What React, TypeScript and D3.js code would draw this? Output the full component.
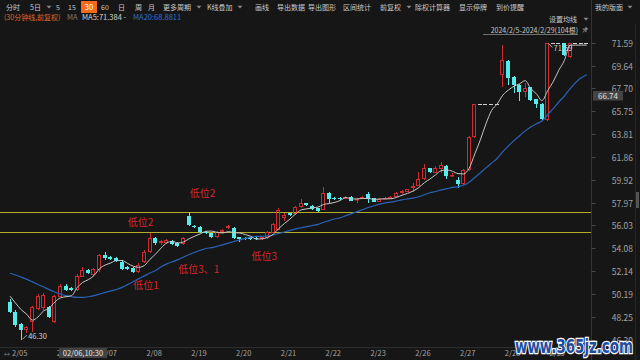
import React from "react";
import * as d3 from "d3";

// ---------- data ----------
const dayLabels = ["2/05", "2/06", "2/07", "2/08", "2/19", "2/20", "2/21", "2/22", "2/23", "2/26", "2/27", "2/28", "2/29"];
const barsPerDay = 8;

const open = [
  49.53, 48.68, 47.62, 47.12, 47.83, 48.88, 48.95, 49.11,
  47.83, 49.96, 50.87, 50.70, 50.53, 51.66, 52.23, 51.80,
  52.23, 53.51, 53.36, 53.22, 52.94, 52.46, 52.43, 52.03,
  52.94, 53.79, 54.93, 54.50, 54.50, 54.67, 54.55, 54.44,
  56.83, 56.00, 55.92, 55.49, 55.35, 55.01, 55.49, 55.78,
  55.78, 55.01, 54.98, 55.01, 54.98, 54.84, 54.93, 55.41,
  55.64, 56.65, 57.05, 57.00, 57.60, 57.90, 57.68, 57.48,
  57.34, 58.76, 58.32, 58.39, 58.31, 58.48, 58.19, 58.40,
  58.70, 58.33, 58.05, 58.31, 58.33, 58.48, 58.76, 58.90,
  59.18, 59.38, 59.95, 60.89, 60.52, 60.83, 61.09, 60.25,
  59.90, 59.55, 60.75, 63.53, 66.37, 66.37, 66.37, 66.37,
  68.84, 70.06, 68.70, 67.99, 67.42, 67.79, 66.77, 66.37,
  65.00, 71.59, 71.59, 71.59, 70.40, 71.59, 71.59, 71.59,
];
const high = [
  49.75, 48.80, 47.70, 47.50, 49.20, 50.15, 50.25, 49.20,
  50.10, 51.00, 51.00, 50.80, 51.90, 52.50, 52.30, 52.40,
  53.60, 53.80, 53.45, 53.30, 53.10, 52.55, 52.50, 52.80,
  53.90, 55.41, 55.05, 54.80, 54.85, 54.75, 54.60, 55.00,
  57.14, 56.10, 56.00, 55.55, 55.40, 55.55, 55.70, 56.05,
  55.90, 55.05, 55.02, 55.05, 55.02, 55.05, 55.55, 56.20,
  57.50, 57.10, 57.10, 57.70, 58.30, 57.95, 57.75, 57.55,
  59.33, 58.85, 58.45, 58.45, 58.55, 58.52, 58.35, 58.50,
  58.90, 58.38, 58.35, 58.45, 58.52, 58.88, 59.05, 59.15,
  59.67, 60.55, 61.23, 60.95, 61.12, 61.46, 61.15, 60.45,
  60.18, 60.80, 63.65, 66.37, 66.37, 66.37, 66.37, 66.37,
  71.39, 70.10, 68.75, 68.05, 68.13, 67.85, 66.80, 66.45,
  71.59, 71.59, 71.59, 71.59, 71.59, 71.59, 71.59, 71.59,
];
const low = [
  48.55, 47.40, 46.30, 46.90, 46.98, 48.80, 48.85, 48.10,
  47.70, 49.90, 50.40, 50.45, 50.45, 51.60, 51.90, 51.75,
  52.10, 53.10, 53.05, 52.95, 52.20, 52.25, 51.95, 51.98,
  52.85, 53.70, 54.40, 54.40, 54.45, 54.35, 54.20, 54.40,
  55.95, 55.80, 55.40, 55.30, 54.95, 54.95, 55.45, 55.72,
  54.88, 54.60, 54.80, 54.82, 54.78, 54.80, 54.90, 55.35,
  55.60, 56.40, 56.85, 56.95, 57.55, 57.70, 57.35, 57.20,
  57.30, 57.96, 58.15, 58.20, 58.28, 58.08, 57.96, 58.36,
  57.96, 58.00, 58.00, 58.28, 58.30, 58.45, 58.72, 58.86,
  58.90, 59.35, 59.90, 60.50, 60.45, 60.46, 59.95, 60.15,
  59.20, 59.50, 60.70, 63.45, 66.37, 66.37, 66.37, 66.37,
  67.85, 67.99, 67.28, 66.65, 67.00, 66.65, 66.00, 64.95,
  64.92, 71.59, 71.59, 70.45, 70.30, 71.59, 71.59, 71.59,
];
const close = [
  48.68, 47.54, 47.12, 47.35, 49.11, 50.04, 50.10, 48.25,
  50.01, 50.87, 50.53, 50.55, 51.72, 52.23, 52.00, 52.29,
  53.51, 53.22, 53.14, 53.02, 52.29, 52.29, 52.03, 52.66,
  53.79, 54.93, 54.50, 54.67, 54.78, 54.44, 54.27, 54.93,
  56.06, 55.86, 55.44, 55.35, 55.01, 55.49, 55.64, 56.00,
  54.93, 54.84, 54.84, 54.87, 54.84, 55.01, 55.49, 56.14,
  57.34, 56.95, 56.95, 57.62, 57.90, 57.75, 57.40, 57.25,
  58.76, 58.28, 58.25, 58.25, 58.48, 58.13, 58.31, 58.45,
  58.25, 58.05, 58.31, 58.39, 58.48, 58.82, 58.99, 59.10,
  59.41, 59.95, 60.89, 60.55, 60.89, 61.17, 60.25, 60.34,
  59.55, 60.75, 63.59, 66.37, 66.37, 66.37, 66.37, 66.37,
  70.12, 68.56, 67.99, 67.42, 67.70, 66.71, 66.37, 65.08,
  71.59, 71.59, 71.59, 70.56, 71.59, 71.59, 71.59, 71.59,
];

// moving-average values at the first bars (their windows reach before 2/05)
const ma5Head = [50.0, 49.4, 48.85, 48.45];
const ma20Head = [51.95, 51.8, 51.62, 51.43, 51.22, 51.0, 50.78, 50.56, 50.36, 50.18, 50.04, 49.95, 49.9, 49.9, 49.95, 50.05, 50.18, 50.32, 50.45];

const priceTicks = ["71.59", "69.64", "67.70", "65.75", "63.81", "61.86", "59.92", "57.97", "56.03", "54.08", "52.14", "50.19", "48.25", "46.30"];
const supportLevels = [57.19, 55.44];
const noteTexts = ["低位2", "低位2", "低位3、1", "低位1", "低位3"];
const noteBars = [34.4, 23.3, 33.7, 24.3, 45.4];
const notePrices = [58.82, 56.4, 52.37, 51.01, 53.45];

const toolbarLabels = ["分时", "5日", "5", "15", "30", "60", "日", "周", "月", "更多周期", "K线叠加", "画线", "导出数据", "导出图形", "区间统计", "前复权", "除权计算器", "显示停牌", "到价提醒", "我的版面"];

// ---------- styling ----------
const BG = "#161616";
const RED = "#d02a2e";
const CYAN = "#56ecec";
const FLAT = "#cfcfcf";
const FONT = "'Noto Sans CJK SC', 'Noto Sans', sans-serif";

const W = 640;
const H = 360;
const PLOT_RIGHT = 591.5;

export default function App() {
  const n = close.length;
  const x = d3.scaleLinear().domain([0, n - 1]).range([10, 10 + (n - 1) * 5.6]);
  const y = d3.scaleLinear().domain([46.3, 71.59]).range([339.6, 42.7]);

  const ma = (len: number, head: number[]) =>
    close.map((_, i) => (i < head.length ? head[i] : (d3.mean(close.slice(i - len + 1, i + 1)) as number)));
  const ma5 = ma(5, ma5Head);
  const ma20 = ma(20, ma20Head);

  const line = d3
    .line<number>()
    .x((_, i) => x(i))
    .y((d) => y(d))
    .curve(d3.curveMonotoneX);

  // toolbar layout (UI chrome)
  const toolbarX = [6, 30, 56, 68, 83, 101, 118, 135, 148, 163, 207, 255, 277, 308, 343, 380, 415, 459, 496, 595];
  const dropdownAfter: Record<string, number> = { "5日": 49, "更多周期": 199, "K线叠加": 240, "前复权": 409, "我的版面": 630 };
  const tri = (cx: number, cy: number, key: string) => (
    <path key={key} d={`M${cx - 2.5},${cy - 1.3} L${cx + 2.5},${cy - 1.3} L${cx},${cy + 1.5} Z`} fill="#8a8a8a" />
  );

  const lowIdx = d3.minIndex(low);
  const highIdx = d3.maxIndex(high);

  const candles = close.map((c, i) => {
    const o = open[i];
    const cx = Math.floor(x(i));
    const up = c > o;
    const flat = c === o;
    const col = flat ? FLAT : up ? RED : CYAN;
    const yt = Math.round(y(Math.max(o, c)));
    const yb = Math.round(y(Math.min(o, c)));
    const yh = Math.round(y(high[i]));
    const yl = Math.round(y(low[i]));
    const wx = cx + 0.5;
    if (yb - yt < 1) {
      return (
        <g key={i}>
          {yl - yh > 0 && <line x1={wx} x2={wx} y1={yh} y2={yl} stroke={col} />}
          <line x1={cx - 2} x2={cx + 2} y1={yt + 0.5} y2={yt + 0.5} stroke={col} />
        </g>
      );
    }
    if (up) {
      return (
        <g key={i}>
          {yt > yh && <line x1={wx} x2={wx} y1={yh} y2={yt} stroke={col} />}
          {yl > yb && <line x1={wx} x2={wx} y1={yb} y2={yl} stroke={col} />}
          <rect x={cx - 1.5} y={yt + 0.5} width={3} height={Math.max(yb - yt - 1, 0.5)} fill="none" stroke={col} />
        </g>
      );
    }
    return (
      <g key={i}>
        <line x1={wx} x2={wx} y1={yh} y2={yl} stroke={col} />
        <rect x={cx - 2} y={yt} width={4} height={yb - yt} fill={col} />
      </g>
    );
  });

  return (
    <svg
      width={W}
      height={H}
      viewBox={`0 0 ${W} ${H}`}
      style={{ position: "fixed", left: 0, top: 0, display: "block", background: BG }}
      fontFamily={FONT}
    >
      <rect width={W} height={H} fill={BG} />

      {/* toolbar */}
      {toolbarLabels.map((t, k) =>
        t === "30" ? (
          <g key={t + k}>
            <rect x={81} y={1} width={16} height={12} fill="#f26b1d" />
            <text x={89} y={10} fontSize={7.5} fill="#fff" textAnchor="middle">{t}</text>
          </g>
        ) : (
          <g key={t + k}>
            <text x={toolbarX[k]} y={10} fontSize={7} fill="#c9c9c9">{t}</text>
            {dropdownAfter[t] !== undefined && tri(dropdownAfter[t], 7, "tri" + k)}
          </g>
        )
      )}

      {/* legend row */}
      <text x={4} y={20} fontSize={7} fill="#e0662e">(30分钟线,前复权)</text>
      <text x={67} y={20} fontSize={7.5} fill="#7c7c7c">MA</text>
      <text x={82} y={20} fontSize={7.5} fill="#d4d4d4">MA5:71.384 -</text>
      <text x={133} y={20} fontSize={7.5} fill="#2f72d2">MA20:68.8811</text>

      <text x={577} y={21.5} fontSize={7} fill="#c9c9c9" textAnchor="end">设置均线</text>
      {tri(586, 19, "t-ma")}
      <text x={578} y={33} fontSize={7} fill="#c9c9c9" textAnchor="end">2024/2/5-2024/2/29(104根)</text>
      <line x1={483} x2={578} y1={34.5} y2={34.5} stroke="#9a9a9a" strokeWidth={0.7} />
      <g transform="translate(585,30) rotate(45)" fill="#7d7d7d">
        <rect x={-1.5} y={-3} width={3} height={3} />
        <rect x={-2.5} y={0} width={5} height={1} />
        <rect x={-0.4} y={1} width={0.8} height={2.5} />
      </g>

      {/* axes frame */}
      <line x1={PLOT_RIGHT} x2={PLOT_RIGHT} y1={0} y2={H} stroke="#333" />
      <line x1={635.5} x2={635.5} y1={24} y2={H} stroke="#262626" />
      <line x1={0} x2={PLOT_RIGHT} y1={347.5} y2={347.5} stroke="#2e2e2e" />
      <rect x={636} y={192} width={3} height={16} fill="#555" />

      {/* price axis */}
      {priceTicks.map((t) => {
        const yy = y(+t);
        return (
          <g key={t}>
            <line x1={PLOT_RIGHT} x2={PLOT_RIGHT + 4} y1={Math.round(yy) + 0.5} y2={Math.round(yy) + 0.5} stroke="#4a4a4a" />
            <text x={633} y={yy} fontSize={8.5} fill="#a3a3a3" textAnchor="end" dominantBaseline="central">{t}</text>
          </g>
        );
      })}

      {/* date axis */}
      <text x={4} y={356} fontSize={6} fill="#8a8a8a">↔</text>
      {dayLabels.map((d, k) => (
        <text key={d} x={x(k * barsPerDay) + 2} y={356} fontSize={7.5} fill="#a3a3a3">{d}</text>
      ))}

      {/* support lines */}
      {supportLevels.map((p) => (
        <line key={p} x1={0} x2={PLOT_RIGHT - 0.5} y1={Math.round(y(p)) + 0.5} y2={Math.round(y(p)) + 0.5} stroke="#b3ad2a" />
      ))}

      {/* candles */}
      {candles}

      {/* moving averages */}
      <path d={line(ma20) || ""} fill="none" stroke="#2a62b6" strokeWidth={1.2} />
      <path d={line(ma5) || ""} fill="none" stroke="#c6c6c6" strokeWidth={1} />

      {/* extreme markers */}
      <g stroke="#d0d0d0" strokeWidth={0.8} fill="none">
        <line x1={x(lowIdx) + 1.5} y1={y(low[lowIdx]) - 0.5} x2={x(lowIdx) + 5.5} y2={y(low[lowIdx]) - 4.5} />
        <line x1={x(highIdx) + 1} y1={y(high[highIdx]) + 0.8} x2={x(highIdx) + 5} y2={y(high[highIdx]) + 4.8} />
      </g>
      <text x={x(lowIdx) + 7} y={y(low[lowIdx]) - 1} fontSize={7.5} fill="#d0d0d0">{low[lowIdx].toFixed(2)}</text>
      <text x={x(highIdx) + 6} y={y(high[highIdx]) + 8.5} fontSize={7.5} fill="#d0d0d0">{high[highIdx].toFixed(2)}</text>

      {/* notes */}
      {noteTexts.map((t, k) => (
        <text key={k} x={x(noteBars[k])} y={y(notePrices[k])} fontSize={10} fill="#d8272a" textAnchor="middle" dominantBaseline="central">{t}</text>
      ))}

      {/* crosshair labels */}
      <rect x={59} y={348} width={48} height={10} fill="#424242" />
      <text x={83} y={356} fontSize={7.5} fill="#e6e6e6" textAnchor="middle">02/06,10:30</text>
      <rect x={593} y={91} width={30} height={9.5} fill="#444" />
      <text x={608} y={95.8} fontSize={8} fill="#e0e0e0" textAnchor="middle" dominantBaseline="central">66.74</text>

      {/* watermark */}
      <text
        x={515}
        y={353}
        fontSize={19}
        fontWeight="bold"
        fontFamily="'DejaVu Sans', sans-serif"
        textLength={118}
        lengthAdjust="spacingAndGlyphs"
        fill="#1f4e9e"
        stroke="#ffffff"
        strokeWidth={2.5}
        style={{ paintOrder: "stroke" }}
      >
        www.365jz.com
      </text>
    </svg>
  );
}
